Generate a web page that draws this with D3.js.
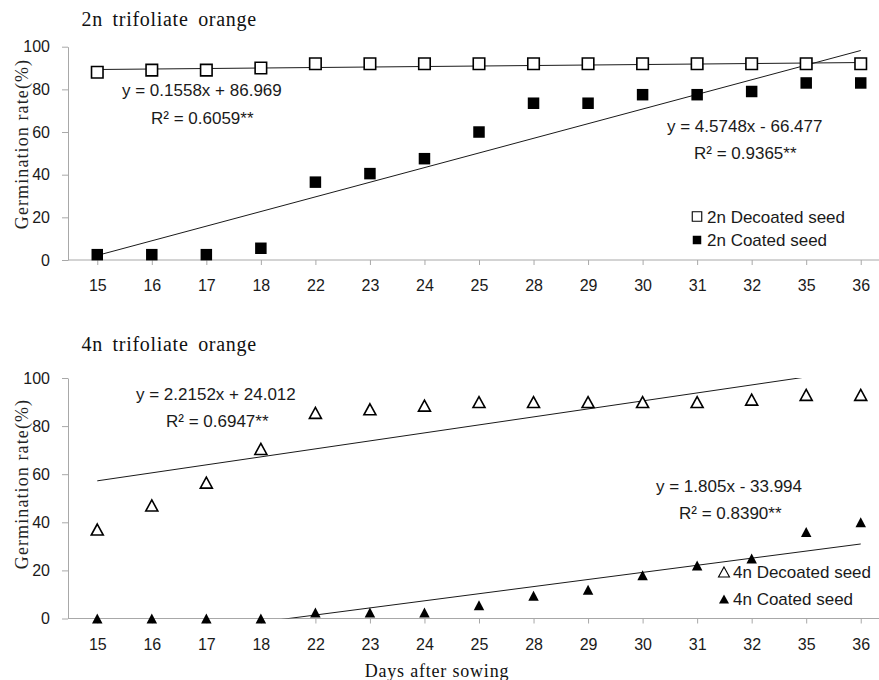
<!DOCTYPE html>
<html>
<head>
<meta charset="utf-8">
<script src="https://cdn.jsdelivr.net/npm/d3@7"></script>
<style>
    body { margin: 0; background: #fff; overflow: hidden; }
</style>
</head>
<body>
<div id="wrapper"></div>
<script>
const days = ["15", "16", "17", "18", "22", "23", "24", "25", "28", "29", "30", "31", "32", "35", "36"];
const yTicks = [0, 20, 40, 60, 80, 100];

const decoated2n = [88, 89, 89, 90, 92, 92, 92, 92, 92, 92, 92, 92, 92, 92, 92];
const coated2n = [2.5, 2.5, 2.5, 5.5, 36.5, 40.5, 47.5, 60, 73.5, 73.5, 77.5, 77.5, 79, 83, 83];
const decoated4n = [37, 47, 56.5, 70.5, 85.5, 87, 88.5, 90, 90, 90, 90, 90, 91, 93, 93];
const coated4n = [0, 0, 0, 0, 2.5, 2.5, 2.5, 5.5, 9.5, 12, 18, 22, 25, 36, 40];

// trend lines: slope, intercept, first day, last day
const trend2nDecoated = [0.1558, 86.969, "15", "36"];
const trend2nCoated = [4.5748, -66.477, "15", "36"];
const trend4nDecoated = [2.2152, 24.012, "15", "36"];
const trend4nCoated = [1.805, -33.994, "18", "36"];

const eq2nDecoated = ["y = 0.1558x + 86.969", "R² = 0.6059**"];
const eq2nCoated = ["y = 4.5748x - 66.477", "R² = 0.9365**"];
const eq4nDecoated = ["y = 2.2152x + 24.012", "R² = 0.6947**"];
const eq4nCoated = ["y = 1.805x - 33.994", "R² = 0.8390**"];

function drawChart() {
    let dimensions = {
        width: 879,
        height: 680,
        axisX: 68,
        xRange: [70, 888],
    }

    const sans = "'Liberation Sans', Arial, sans-serif";
    const serif = "'Liberation Serif', 'Times New Roman', serif";

    let svg = d3.select("#wrapper")
        .append("svg")
        .attr("width", dimensions.width)
        .attr("height", dimensions.height)
        .style("display", "block")
        .style("font-family", sans);

    let xScale = d3.scalePoint()
        .domain(days)
        .range(dimensions.xRange)
        .padding(0.5);

    function markerPath(shape, w, h) {
        if (shape == "square") {
            return `M${-w / 2},${-h / 2}h${w}v${h}h${-w}Z`;
        }
        return `M0,${-h / 2}L${w / 2},${h / 2}L${-w / 2},${h / 2}Z`;
    }

    const panels = [
        {
            id: "p2n",
            title: "2n trifoliate orange",
            titleY: 26,
            yRange: [260, 46.7],
            labelY: 144,
            series: [
                { values: decoated2n, shape: "square", filled: false, w: 11.5, h: 11.5, label: "2n Decoated seed" },
                { values: coated2n, shape: "square", filled: true, w: 11.5, h: 11.5, label: "2n Coated seed" },
            ],
            trends: [trend2nDecoated, trend2nCoated],
            equations: [
                { text: eq2nDecoated, x: [122, 151], y: [96, 123.5] },
                { text: eq2nCoated, x: [667, 694], y: [131.5, 159] },
            ],
            legend: { markerX: 697, textX: 707, rows: [222.5, 246], w: 9.5, h: 9.5 },
        },
        {
            id: "p4n",
            title: "4n trifoliate orange",
            titleY: 350.5,
            yRange: [618.5, 378],
            labelY: 484,
            series: [
                { values: decoated4n, shape: "triangle", filled: false, w: 12, h: 11, label: "4n Decoated seed" },
                { values: coated4n, shape: "triangle", filled: true, w: 10.5, h: 10, label: "4n Coated seed" },
            ],
            trends: [trend4nDecoated, trend4nCoated],
            equations: [
                { text: eq4nDecoated, x: [136, 166], y: [400, 427] },
                { text: eq4nCoated, x: [656, 679], y: [491.5, 519] },
            ],
            legend: { markerX: 724, textX: 733, rows: [578, 605], w: 11, h: 10 },
        },
    ]

    panels.forEach(function (p) {
        let yScale = d3.scaleLinear()
            .domain([0, 100])
            .range(p.yRange);

        let g = svg.append("g");

        // title
        g.append("text")
            .attr("x", 81.5)
            .attr("y", p.titleY)
            .style("font-family", serif)
            .style("font-size", "20px")
            .style("letter-spacing", "0.7px")
            .style("word-spacing", "4px")
            .attr("fill", "#111")
            .text(p.title);

        // y axis
        let yAxis = g.append("g")
            .attr("transform", `translate(${dimensions.axisX},0)`)
            .call(d3.axisLeft(yScale).tickValues(yTicks).tickSize(6).tickPadding(12).tickSizeOuter(0));
        yAxis.select(".domain").attr("stroke", "#a8a8a8");
        yAxis.selectAll(".tick line").attr("stroke", "#a8a8a8");
        yAxis.selectAll(".tick text")
            .style("font-size", "16px")
            .style("font-family", sans)
            .attr("fill", "#1a1a1a");

        // x axis
        let xAxis = g.append("g")
            .attr("transform", `translate(0,${yScale(0)})`)
            .call(d3.axisBottom(xScale).tickSize(5).tickPadding(15).tickSizeOuter(0));
        xAxis.select(".domain").remove();
        xAxis.append("line")
            .attr("x1", dimensions.axisX)
            .attr("x2", dimensions.xRange[1])
            .attr("stroke", "#a8a8a8");
        xAxis.selectAll(".tick line").attr("stroke", "#a8a8a8");
        xAxis.selectAll(".tick text")
            .style("font-size", "16px")
            .style("font-family", sans)
            .attr("fill", "#1a1a1a");

        // y label
        g.append("text")
            .attr("transform", `translate(28,${p.labelY}) rotate(-90)`)
            .attr("text-anchor", "middle")
            .style("font-family", serif)
            .style("font-size", "18px")
            .style("letter-spacing", "1.1px")
            .attr("fill", "#222")
            .text("Germination rate(%)");

        // clip to plot area
        svg.append("clipPath")
            .attr("id", "clip-" + p.id)
            .append("rect")
            .attr("x", dimensions.axisX)
            .attr("y", yScale(100))
            .attr("width", dimensions.xRange[1] - dimensions.axisX)
            .attr("height", yScale(0) - yScale(100));

        // trend lines
        let line = d3.line()
            .x(d => xScale(d[0]))
            .y(d => yScale(d[1]));

        g.append("g")
            .attr("clip-path", `url(#clip-${p.id})`)
            .selectAll("path")
            .data(p.trends)
            .enter()
            .append("path")
            .attr("d", t => line([
                [t[2], t[0] * +t[2] + t[1]],
                [t[3], t[0] * +t[3] + t[1]],
            ]))
            .attr("fill", "none")
            .attr("stroke", "#1a1a1a")
            .attr("stroke-width", 1);

        // markers
        p.series.forEach(function (s) {
            g.append("g")
                .selectAll("path")
                .data(s.values)
                .enter()
                .append("path")
                .attr("transform", (d, i) => `translate(${xScale(days[i])},${yScale(d)})`)
                .attr("d", markerPath(s.shape, s.w, s.h))
                .attr("fill", s.filled ? "#000" : "#fff")
                .attr("stroke", "#000")
                .attr("stroke-width", s.filled ? 0 : 1.6);
        });

        // equations
        p.equations.forEach(function (e) {
            e.text.forEach(function (t, i) {
                g.append("text")
                    .attr("x", e.x[i])
                    .attr("y", e.y[i])
                    .style("font-size", "17px")
                    .attr("fill", "#1a1a1a")
                    .text(t);
            });
        });

        // legend
        let lg = g.append("g");
        p.series.forEach(function (s, i) {
            let cy = p.legend.rows[i] - 6;
            lg.append("path")
                .attr("transform", `translate(${p.legend.markerX},${cy})`)
                .attr("d", markerPath(s.shape, s.filled ? p.legend.w - 1 : p.legend.w, s.filled ? p.legend.h - 1 : p.legend.h))
                .attr("fill", s.filled ? "#000" : "#fff")
                .attr("stroke", "#000")
                .attr("stroke-width", s.filled ? 0 : 1.1);
            lg.append("text")
                .attr("x", p.legend.textX)
                .attr("y", p.legend.rows[i])
                .style("font-size", "17px")
                .attr("fill", "#1a1a1a")
                .text(s.label);
        });
    });

    // x label
    svg.append("text")
        .attr("x", 437)
        .attr("y", 677)
        .attr("text-anchor", "middle")
        .style("font-family", serif)
        .style("font-size", "18px")
        .style("letter-spacing", "0.8px")
        .attr("fill", "#111")
        .text("Days after sowing");
}

drawChart();
</script>
</body>
</html>
